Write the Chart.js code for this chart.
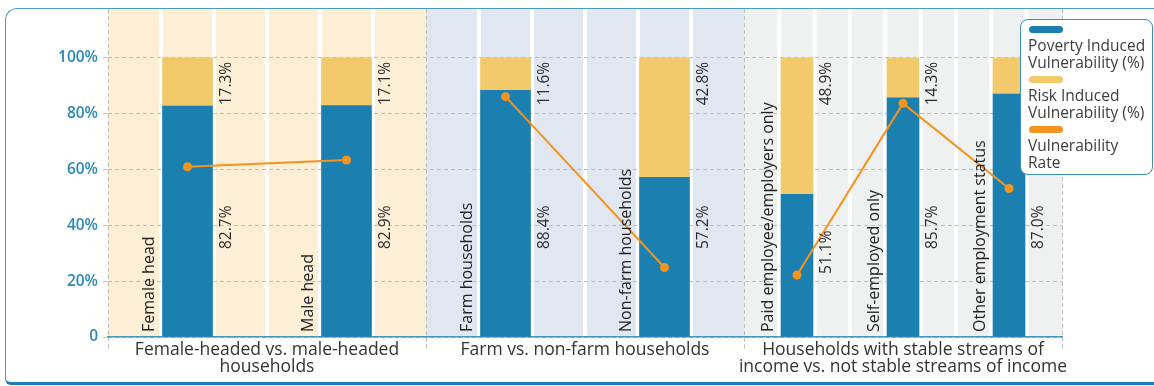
<!DOCTYPE html>
<html>
<head>
<meta charset="utf-8">
<title>Vulnerability by household type</title>
<script src="https://cdn.jsdelivr.net/npm/chart.js@4.4.1/dist/chart.umd.min.js"></script>
<style>
  html, body { margin: 0; padding: 0; width: 1154px; height: 386px; overflow: hidden; background: #fff; }
  .card {
    position: absolute; left: 5px; top: 8px; width: 1170px; height: 377px; box-sizing: border-box;
    border-top: 1.5px solid #4a9bc8; border-left: 1.5px solid #4a9bc8; border-bottom: 3px solid #1d7db1;
    border-radius: 12px 0 0 6px;
  }
  #chart { position: absolute; left: 0; top: 0; }
  #legend {
    position: absolute; left: 1020px; top: 19px; width: 133px; height: 156px; box-sizing: border-box;
    background: #fff; border: 1.5px solid #3a8fc0; border-radius: 8px; padding: 6px 0 0 7px;
    font: 15.5px 'Open Sans', sans-serif; color: #3d3d3d; line-height: 17px;
  }
  #legend .item { margin-bottom: 5px; }
  #legend .sw { width: 34px; height: 7px; border-radius: 4px; margin: 0 0 4px 1px; }
</style>
</head>
<body>
<div class="card"></div>
<canvas id="chart" width="1154" height="386"></canvas>
<div id="legend"></div>
<script>
// ── categories & values ──
const groups = [
  ['Female-headed vs. male-headed', 'households'],
  ['Farm vs. non-farm households'],
  ['Households with stable streams of', 'income vs. not stable streams of income']
];
const categories = ['Female head', 'Male head', 'Farm households', 'Non-farm households',
  'Paid employee/employers only', 'Self-employed only', 'Other employment status'];
const groupOf = [0, 0, 1, 1, 2, 2, 2];
const povertyPct = [82.7, 82.9, 88.4, 57.2, 51.1, 85.7, 87.0];
const riskPct = [17.3, 17.1, 11.6, 42.8, 48.9, 14.3, 13.0];
const ratePct = [61.0, 63.4, 86.1, 24.9, 22.2, 83.7, 53.2];
const yTicks = [0, 20, 40, 60, 80, 100];

const COLORS = { poverty: '#1b80b0', risk: '#f2c96b', rate: '#f3941f' };
const STRIPES = ['#fdeed6', '#e1e7f1', '#eff0f0'];
const PLOT_W = 954;

Chart.defaults.font.family = "'Open Sans', sans-serif";

// x position of each category: centred inside its share of the group
const xPos = categories.map((_, i) => {
  const g = groupOf[i];
  const members = groupOf.filter(v => v === g).length;
  const k = groupOf.slice(0, i).filter(v => v === g).length;
  return g + (k + 0.5) / members;
});

const datasets = [];
groups.forEach((_, g) => {
  const idx = categories.map((_, i) => i).filter(i => groupOf[i] === g);
  const thick = Math.round(PLOT_W / groups.length / idx.length / 3) - 3;
  datasets.push({
    label: 'Poverty Induced Vulnerability (%)', type: 'bar', stack: 's' + g, order: 2,
    data: idx.map(i => ({ x: xPos[i], y: povertyPct[i], cat: i })),
    backgroundColor: COLORS.poverty, barThickness: thick, grouped: false, role: 'poverty'
  });
  datasets.push({
    label: 'Risk Induced Vulnerability (%)', type: 'bar', stack: 's' + g, order: 2,
    data: idx.map(i => ({ x: xPos[i], y: riskPct[i], cat: i })),
    backgroundColor: COLORS.risk, barThickness: thick, grouped: false, role: 'risk'
  });
});

// one line, broken between groups
const rateData = [];
categories.forEach((_, i) => {
  if (i > 0 && groupOf[i] !== groupOf[i - 1]) rateData.push({ x: groupOf[i], y: null });
  rateData.push({ x: xPos[i], y: ratePct[i] });
});
datasets.push({
  label: 'Vulnerability Rate', type: 'line', stack: 'rate', order: 0, data: rateData,
  borderColor: COLORS.rate, backgroundColor: COLORS.rate, borderWidth: 2,
  pointRadius: 4.5, pointBackgroundColor: COLORS.rate, pointBorderWidth: 0, spanGaps: false
});

// background stripes: label / bar / value column for each category
const stripes = {
  id: 'stripes',
  beforeDraw(chart) {
    const { ctx, chartArea: a, scales: { x } } = chart;
    const groupW = x.getPixelForValue(1) - x.getPixelForValue(0);
    ctx.save();
    categories.forEach((_, i) => {
      const g = groupOf[i];
      const n = groupOf.filter(v => v === g).length;
      const w = groupW / n;
      const left = x.getPixelForValue(xPos[i]) - w / 2;
      const gl = x.getPixelForValue(g), gr = x.getPixelForValue(g + 1);
      ctx.fillStyle = STRIPES[g];
      for (let k = 0; k < 3; k++) {
        let l = left + k * w / 3 + 2, r = left + (k + 1) * w / 3 - 2;
        if (l - 3 < gl) l = gl;
        if (r + 3 > gr) r = gr;
        ctx.fillRect(l, a.top, r - l, a.bottom - a.top);
      }
    });
    ctx.restore();
  }
};

// rotated category names and value labels beside each bar
const barLabels = {
  id: 'barLabels',
  afterDatasetsDraw(chart) {
    const { ctx, chartArea: a, scales: { y } } = chart;
    const lineMeta = chart.getDatasetMeta(chart.data.datasets.length - 1);
    // segments of the rate line, only between points of the same group
    const segs = [];
    for (let j = 0; j < rateData.length - 1; j++) {
      if (rateData[j].y === null || rateData[j + 1].y === null) continue;
      segs.push([lineMeta.data[j], lineMeta.data[j + 1]]);
    }
    const lineYAt = px => {
      for (const [p, q] of segs) {
        if (p.x <= px && px <= q.x) return p.y + (q.y - p.y) * (px - p.x) / (q.x - p.x);
      }
      return null;
    };
    const text = (str, x0, y0, align, font, color) => {
      ctx.save();
      ctx.translate(x0, y0);
      ctx.rotate(-Math.PI / 2);
      ctx.font = font; ctx.fillStyle = color;
      ctx.textAlign = align; ctx.textBaseline = 'middle';
      ctx.fillText(str, 0, 0);
      ctx.restore();
    };
    chart.data.datasets.forEach((ds, d) => {
      if (!ds.role) return;
      chart.getDatasetMeta(d).data.forEach((bar, j) => {
        const i = ds.data[j].cat;
        const half = bar.width / 2;
        const vx = bar.x + half + 14;
        const label = ds.data[j].y.toFixed(1) + '%';
        const vFont = "15.5px 'Open Sans', sans-serif";
        if (ds.role === 'risk') {
          text(label, vx, y.getPixelForValue(100) + 4, 'right', vFont, '#2b2b2b');
          return;
        }
        text(categories[i], bar.x - half - 13, a.bottom - 5, 'left', "16px 'Open Sans', sans-serif", '#222');
        ctx.font = vFont;
        const tw = ctx.measureText(label).width;
        let cy = y.getPixelForValue(39.3);
        const ly = lineYAt(vx);
        if (ly !== null && ly > cy - tw / 2 - 4 && ly < cy + tw / 2 + 4) cy = ly + 4 + tw / 2;
        text(label, vx, cy, 'center', vFont, '#2b2b2b');
      });
    });
  }
};

const chart = new Chart(document.getElementById('chart'), {
  type: 'bar',
  data: { datasets },
  options: {
    responsive: false,
    animation: false,
    events: [],
    layout: { padding: { top: 9, right: 92, bottom: 0, left: 0 } },
    plugins: { legend: { display: false }, tooltip: { enabled: false } },
    scales: {
      x: {
        type: 'linear', min: 0, max: groups.length, offset: false,
        afterBuildTicks: s => {
          s.ticks = [];
          for (let v = 0; v <= groups.length; v += 0.5) s.ticks.push({ value: v });
        },
        afterFit: s => { s.height = 49; s.paddingLeft = 0; s.paddingRight = 0; },
        grid: {
          offset: false, drawOnChartArea: true, tickLength: 13, lineWidth: 1,
          color: c => (c.tick && Number.isInteger(c.tick.value)) ? '#bdbdbd' : 'transparent',
          tickColor: c => (c.tick && Number.isInteger(c.tick.value)) ? '#bdbdbd' : 'transparent',
          tickBorderDash: [4, 3]
        },
        border: { display: true, color: '#4a94c0', width: 1.5, dash: [4, 3] },
        ticks: {
          autoSkip: false, maxRotation: 0, minRotation: 0, padding: -9,
          color: '#333', font: { size: 17.5, lineHeight: 1.0 },
          callback: v => Number.isInteger(v) ? '' : groups[Math.floor(v)]
        }
      },
      y: {
        stacked: true, min: 0, max: 117.5,
        afterBuildTicks: s => { s.ticks = yTicks.map(v => ({ value: v })); },
        afterFit: s => { s.width = 108; s.paddingTop = 0; s.paddingBottom = 0; },
        grid: { color: '#bdbdbd', lineWidth: 1, tickLength: 5, tickBorderDash: [4, 3] },
        border: { display: false, dash: [4, 3] },
        ticks: {
          padding: 5, color: '#2a87ba', font: { size: 15.5, weight: '600' },
          callback: v => v === 0 ? '0' : v + '%'
        }
      }
    }
  },
  plugins: [stripes, barLabels]
});

// legend built from the dataset labels and colours
const legend = document.getElementById('legend');
const seen = new Set();
chart.data.datasets.forEach(ds => {
  if (seen.has(ds.label)) return;
  seen.add(ds.label);
  const item = document.createElement('div');
  item.className = 'item';
  const sw = document.createElement('div');
  sw.className = 'sw';
  sw.style.background = ds.backgroundColor;
  const txt = document.createElement('div');
  txt.textContent = ds.label;
  item.appendChild(sw);
  item.appendChild(txt);
  legend.appendChild(item);
});
</script>
</body>
</html>
